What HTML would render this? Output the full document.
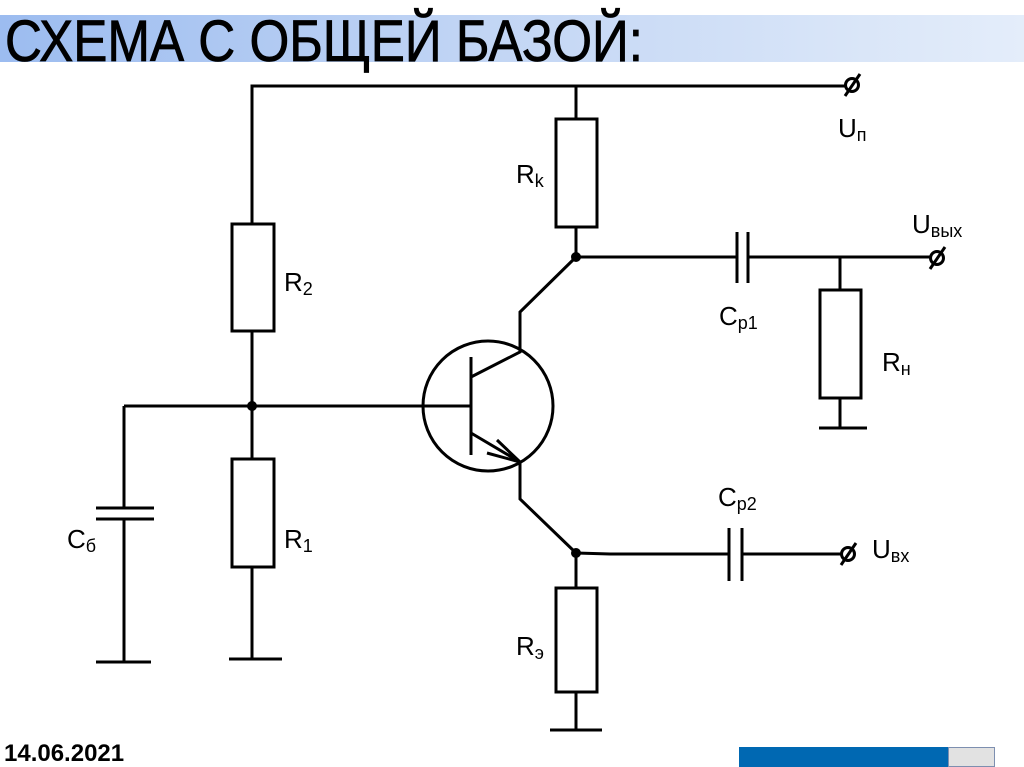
<!DOCTYPE html>
<html><head><meta charset="utf-8"><style>
html,body{margin:0;padding:0;background:#fff;width:1024px;height:767px;overflow:hidden;position:relative}
.title{position:absolute;left:0;top:15px;width:1024px;height:47px;background:linear-gradient(to right,#9cbcf0 0%,#c0d4f4 45%,#e4edfa 100%)}
.date{position:absolute;left:4px;top:740px;font-family:"Liberation Sans",sans-serif;font-weight:bold;font-size:24px}
svg{position:absolute;left:0;top:0}
svg text{font-family:"Liberation Sans","DejaVu Sans",sans-serif;font-size:26px;fill:#000}
svg text tspan.s{font-size:18px}
</style></head><body>
<div class="title"></div>
<div class="date">14.06.2021</div>
<div style="position:absolute;left:739px;top:747px;width:209px;height:20px;background:#0068b2"></div>
<div style="position:absolute;left:948px;top:747px;width:47px;height:20px;background:#e2e2e2;border:1px solid #7d8fb0;box-sizing:border-box"></div>
<svg width="1024" height="767" viewBox="0 0 1024 767">
<text x="5" y="61" style="font-size:58px;stroke:#000;stroke-width:0.8" textLength="638" lengthAdjust="spacingAndGlyphs">СХЕМА С ОБЩЕЙ БАЗОЙ:</text>
<g stroke="#000" stroke-width="3" fill="none">
<polyline points="252,224 252,86 846,86"/>
<line x1="576" y1="86" x2="576" y2="119"/>
<rect x="556" y="119" width="41" height="108" fill="#fff"/>
<line x1="576" y1="227" x2="576" y2="257"/>
<line x1="576" y1="257" x2="737" y2="257"/>
<line x1="737" y1="232" x2="737" y2="283"/>
<line x1="748" y1="232" x2="748" y2="283"/>
<line x1="748" y1="257" x2="931" y2="257"/>
<line x1="840" y1="257" x2="840" y2="290"/>
<rect x="820" y="290" width="41" height="108" fill="#fff"/>
<line x1="840" y1="398" x2="840" y2="428"/>
<line x1="819" y1="428" x2="867" y2="428"/>
<rect x="232" y="224" width="42" height="107" fill="#fff"/>
<line x1="252" y1="331" x2="252" y2="459"/>
<line x1="124" y1="406" x2="471" y2="406"/>
<rect x="232" y="459" width="42" height="108" fill="#fff"/>
<line x1="252" y1="567" x2="252" y2="659"/>
<line x1="229" y1="659" x2="282" y2="659"/>
<line x1="124" y1="406" x2="124" y2="508"/>
<line x1="96" y1="508" x2="154" y2="508"/>
<line x1="96" y1="519" x2="154" y2="519"/>
<line x1="124" y1="519" x2="124" y2="662"/>
<line x1="96" y1="662" x2="151" y2="662"/>
<circle cx="488" cy="406" r="65"/>
<line x1="471" y1="357" x2="471" y2="455"/>
<polyline points="471,377 520,352 520,312 576,257"/>
<polyline points="471,433 520,462 520,499 576,553"/>
<polyline points="497,440 520,462 487,453"/>
<line x1="576" y1="553" x2="576" y2="588"/>
<rect x="556" y="588" width="41" height="104" fill="#fff"/>
<line x1="576" y1="692" x2="576" y2="730"/>
<line x1="550" y1="730" x2="602" y2="730"/>
<polyline points="576,553 610,554 729,554"/>
<line x1="729" y1="528" x2="729" y2="581"/>
<line x1="742" y1="528" x2="742" y2="581"/>
<line x1="742" y1="554" x2="842" y2="554"/>
<circle cx="852" cy="85" r="6.5"/>
<line x1="845" y1="96" x2="860" y2="74"/>
<circle cx="937" cy="258" r="6.5"/>
<line x1="930" y1="269" x2="945" y2="247"/>
<circle cx="848" cy="554" r="6.5"/>
<line x1="841" y1="565" x2="856" y2="543"/>
</g>
<g fill="#000">
<circle cx="576" cy="257" r="5"/>
<circle cx="252" cy="406" r="5"/>
<circle cx="576" cy="553" r="5"/>
</g>
<text x="838" y="137">U<tspan class="s" dy="4">п</tspan></text>
<text x="516" y="183">R<tspan class="s" dy="4">k</tspan></text>
<text x="912" y="233">U<tspan class="s" dy="4">вых</tspan></text>
<text x="719" y="325">C<tspan class="s" dy="4">р1</tspan></text>
<text x="882" y="371">R<tspan class="s" dy="4">н</tspan></text>
<text x="284" y="291">R<tspan class="s" dy="4">2</tspan></text>
<text x="67" y="548">C<tspan class="s" dy="4">б</tspan></text>
<text x="284" y="548">R<tspan class="s" dy="4">1</tspan></text>
<text x="718" y="506">C<tspan class="s" dy="4">р2</tspan></text>
<text x="516" y="655">R<tspan class="s" dy="4">э</tspan></text>
<text x="872" y="558">U<tspan class="s" dy="4">вх</tspan></text>
</svg>
</body></html>
